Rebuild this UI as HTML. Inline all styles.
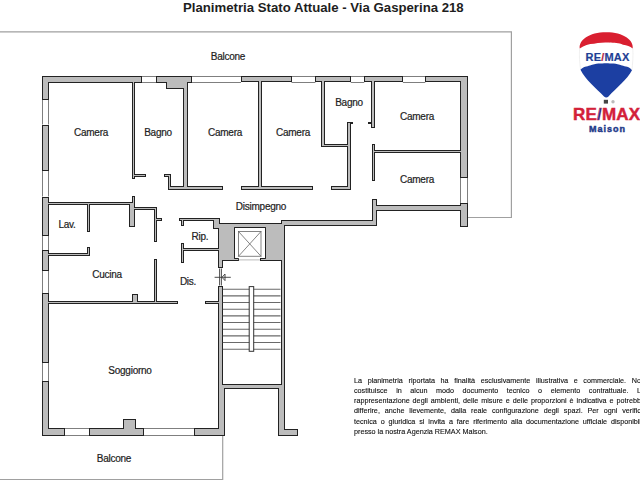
<!DOCTYPE html>
<html><head><meta charset="utf-8"><style>
html,body{margin:0;padding:0;background:#fff;}
body{width:640px;height:480px;overflow:hidden;position:relative;font-family:"Liberation Sans",sans-serif;}
svg{position:absolute;left:0;top:0;}
.title{position:absolute;left:183px;top:-0.5px;font-weight:bold;font-size:13.2px;color:#1e1e1e;white-space:nowrap;}
.disc{position:absolute;left:354px;top:375.6px;width:323.3px;font-size:8px;line-height:10.25px;color:#111;-webkit-text-stroke:0.12px #111;white-space:nowrap;transform:scaleX(0.9);transform-origin:0 0;}
.lg1{position:absolute;left:585.5px;top:51px;font-weight:bold;font-size:11px;line-height:12px;color:#1f3f95;letter-spacing:0.2px;-webkit-text-stroke:0.2px #1f3f95;white-space:nowrap;}
.lg2{position:absolute;left:573px;top:105.5px;font-weight:bold;font-size:17px;line-height:18px;color:#d3213a;letter-spacing:0.2px;-webkit-text-stroke:0.45px #d3213a;white-space:nowrap;}
.lg3{position:absolute;left:589px;top:123.5px;font-weight:bold;font-size:9px;line-height:10px;color:#1f3a8a;letter-spacing:1.0px;-webkit-text-stroke:0.45px #1f3a8a;white-space:nowrap;}
.j{text-align:justify;text-align-last:justify;}
</style></head><body>
<div class="title">Planimetria Stato Attuale - Via Gasperina 218</div>
<svg width="640" height="480" viewBox="0 0 640 480">
<g fill="none" stroke="#a0a0a0" stroke-width="1.2">
<polyline points="0,31.8 511.4,31.8 511.4,217.5 467.7,217.5"/>
<polyline points="0,479.5 222.7,479.5 222.7,435.6"/>
</g>
<g stroke="#7f7f7f" stroke-width="1"><line x1="141.5" y1="76.5" x2="156" y2="76.5"/><line x1="141.5" y1="82.5" x2="156" y2="82.5"/><line x1="191.5" y1="76.5" x2="241" y2="76.5"/><line x1="191.5" y1="82.5" x2="241" y2="82.5"/><line x1="291.5" y1="76.5" x2="315.4" y2="76.5"/><line x1="291.5" y1="82.5" x2="315.4" y2="82.5"/><line x1="350.75" y1="76.5" x2="364.25" y2="76.5"/><line x1="350.75" y1="82.5" x2="364.25" y2="82.5"/><line x1="402.9" y1="76.5" x2="425.3" y2="76.5"/><line x1="402.9" y1="82.5" x2="425.3" y2="82.5"/><line x1="64.6" y1="428.5" x2="89.4" y2="428.5"/><line x1="64.6" y1="435.5" x2="89.4" y2="435.5"/><line x1="143.75" y1="428.5" x2="194.4" y2="428.5"/><line x1="143.75" y1="435.5" x2="194.4" y2="435.5"/><line x1="42.5" y1="99.5" x2="42.5" y2="124.5"/><line x1="48.5" y1="99.5" x2="48.5" y2="124.5"/><line x1="42.5" y1="170.6" x2="42.5" y2="196.5"/><line x1="48.5" y1="170.6" x2="48.5" y2="196.5"/><line x1="42.5" y1="235.5" x2="42.5" y2="250"/><line x1="48.5" y1="235.5" x2="48.5" y2="250"/><line x1="42.5" y1="270.6" x2="42.5" y2="293"/><line x1="48.5" y1="270.6" x2="48.5" y2="293"/><line x1="42.5" y1="363" x2="42.5" y2="381.3"/><line x1="48.5" y1="363" x2="48.5" y2="381.3"/><line x1="460.5" y1="177.5" x2="460.5" y2="203"/><line x1="467.5" y1="177.5" x2="467.5" y2="203"/></g>
<defs><filter id="er" x="0" y="0" width="640" height="480" filterUnits="userSpaceOnUse"><feMorphology operator="erode" radius="1"/></filter></defs>
<path fill="#222" d="M42 76H142V83H42ZM156 76H192V83H156ZM166 83H188V89H166ZM241 76H292V82H241ZM315 76H351V82H315ZM364 76H403V82H364ZM425 76H468V82H425ZM42 76H49V100H42ZM42 125H49V171H42ZM42 197H49V236H42ZM42 250H49V271H42ZM42 293H49V363H42ZM42 381H49V436H42ZM42 428H65V436H42ZM89 428H144V436H89ZM123 419H136V428H123ZM194 428H225V436H194ZM218 389H225V436H218ZM278 429H298V436H278ZM278 389H285V436H278ZM460 76H468V178H460ZM460 203H468V227H460ZM132 82H135V179H132ZM135 174H146V177H135ZM168 174H171V189H168ZM164 174H171V177H164ZM168 186H223V190H168ZM183 82H188V189H183ZM258 82H262V189H258ZM241 186H313V190H241ZM321 82H325V147H321ZM321 144H351V147H321ZM347 122H351V189H347ZM351 122H353V124H351ZM331 186H351V190H331ZM371 82H375V128H371ZM368 122H371V124H368ZM372 144H375V181H372ZM375 150H460V153H375ZM372 199H377V226H372ZM377 205H460V211H377ZM281 220H377V226H281ZM49 202H129V205H49ZM87 204H90V232H87ZM129 202H135V227H129ZM132 196H135V203H132ZM135 207H157V210H135ZM154 207H157V242H154ZM157 218H162V221H157ZM49 253H90V256H49ZM87 247H90V256H87ZM154 259H157V303H154ZM49 301H178V304H49ZM132 294H138V301H132ZM205 301H218V304H205ZM179 218H220V221H179ZM181 220H184V226H181ZM213 218H220V229H213ZM183 248H219V251H183ZM181 243H184V263H181ZM218 223H235V261H218ZM265 223H285V261H265ZM234 258H239V261H234ZM260 258H266V261H260ZM218 223H285V228H218ZM218 223H223V268H218ZM218 286H223V389H218ZM281 222H285V436H281ZM222 384H281V389H222Z"/>
<path fill="#bcbcbc" filter="url(#er)" d="M42 76H142V83H42ZM156 76H192V83H156ZM166 83H188V89H166ZM241 76H292V82H241ZM315 76H351V82H315ZM364 76H403V82H364ZM425 76H468V82H425ZM42 76H49V100H42ZM42 125H49V171H42ZM42 197H49V236H42ZM42 250H49V271H42ZM42 293H49V363H42ZM42 381H49V436H42ZM42 428H65V436H42ZM89 428H144V436H89ZM123 419H136V428H123ZM194 428H225V436H194ZM218 389H225V436H218ZM278 429H298V436H278ZM278 389H285V436H278ZM460 76H468V178H460ZM460 203H468V227H460ZM132 82H135V179H132ZM135 174H146V177H135ZM168 174H171V189H168ZM164 174H171V177H164ZM168 186H223V190H168ZM183 82H188V189H183ZM258 82H262V189H258ZM241 186H313V190H241ZM321 82H325V147H321ZM321 144H351V147H321ZM347 122H351V189H347ZM351 122H353V124H351ZM331 186H351V190H331ZM371 82H375V128H371ZM368 122H371V124H368ZM372 144H375V181H372ZM375 150H460V153H375ZM372 199H377V226H372ZM377 205H460V211H377ZM281 220H377V226H281ZM49 202H129V205H49ZM87 204H90V232H87ZM129 202H135V227H129ZM132 196H135V203H132ZM135 207H157V210H135ZM154 207H157V242H154ZM157 218H162V221H157ZM49 253H90V256H49ZM87 247H90V256H87ZM154 259H157V303H154ZM49 301H178V304H49ZM132 294H138V301H132ZM205 301H218V304H205ZM179 218H220V221H179ZM181 220H184V226H181ZM213 218H220V229H213ZM183 248H219V251H183ZM181 243H184V263H181ZM218 223H235V261H218ZM265 223H285V261H265ZM234 258H239V261H234ZM260 258H266V261H260ZM218 223H285V228H218ZM218 223H223V268H218ZM218 286H223V389H218ZM281 222H285V436H281ZM222 384H281V389H222Z"/>
<path d="M238.6 258.5H234.5V227.5H265.5V258.5H260" fill="#fff" stroke="#222" stroke-width="1"/><line x1="238.6" y1="259.9" x2="260" y2="259.9" stroke="#aaa" stroke-width="0.8"/>
<g fill="none" stroke="#666" stroke-width="0.8">
<rect x="238.5" y="231.5" width="22.5" height="24.75"/>
<line x1="238.5" y1="231.5" x2="261" y2="256.25"/><line x1="261" y1="231.5" x2="238.5" y2="256.25"/>
</g>
<g stroke="#6a6a6a" stroke-width="1.1"><line x1="222.8" y1="289.20" x2="280.5" y2="289.20"/><line x1="222.8" y1="295.87" x2="280.5" y2="295.87"/><line x1="222.8" y1="302.53" x2="280.5" y2="302.53"/><line x1="222.8" y1="309.20" x2="280.5" y2="309.20"/><line x1="222.8" y1="315.87" x2="280.5" y2="315.87"/><line x1="222.8" y1="322.53" x2="280.5" y2="322.53"/><line x1="222.8" y1="329.20" x2="280.5" y2="329.20"/><line x1="222.8" y1="335.87" x2="280.5" y2="335.87"/><line x1="222.8" y1="342.54" x2="280.5" y2="342.54"/><line x1="222.8" y1="349.20" x2="280.5" y2="349.20"/></g>
<rect x="249.2" y="286.6" width="4.5" height="64.7" fill="#fff" stroke="#333" stroke-width="1"/>
<g stroke="#3a3a3a" stroke-width="0.9" fill="none">
<line x1="214.6" y1="277.3" x2="230.8" y2="277.3"/>
<line x1="219.6" y1="268.5" x2="219.6" y2="285.5"/><line x1="221.4" y1="268.5" x2="221.4" y2="285.5"/>
<polygon points="222,277.3 225,274 225,280.6"/>
</g>
<g font-family="Liberation Sans" font-size="10" fill="#222" stroke="#222" stroke-width="0.2" letter-spacing="-0.25" text-anchor="middle"><text x="228" y="60">Balcone</text><text x="91" y="136">Camera</text><text x="158" y="136">Bagno</text><text x="225" y="136">Camera</text><text x="293" y="136">Camera</text><text x="349" y="106">Bagno</text><text x="417" y="120">Camera</text><text x="417" y="183">Camera</text><text x="261" y="210">Disimpegno</text><text x="67" y="228">Lav.</text><text x="200" y="240">Rip.</text><text x="107" y="278">Cucina</text><text x="188" y="285">Dis.</text><text x="130" y="374">Soggiorno</text><text x="114" y="462">Balcone</text></g>
</svg>
<div class="disc"><div class="j">La planimetria riportata ha finalità esclusivamente illustrativa e commerciale. Non</div><div class="j">costituisce in alcun modo documento tecnico o elemento contrattuale. La</div><div class="j">rappresentazione degli ambienti, delle misure e delle proporzioni è indicativa e potrebbe</div><div class="j">differire, anche lievemente, dalla reale configurazione degli spazi. Per ogni verifica</div><div class="j">tecnica o giuridica si invita a fare riferimento alla documentazione ufficiale disponibile</div><div>presso la nostra Agenzia REMAX Maison.</div></div>

<svg width="640" height="480" viewBox="0 0 640 480" style="position:absolute;left:0;top:0">
<path fill="none" stroke="#ececec" stroke-width="0.8" d="M579.6,48.5 C579,56 579.8,64 580.6,69.8 M632.8,48.5 C633.4,56 632.6,64 631.9,70.3"/>
<path fill="#d91f30" d="M579.75,48.5 C578.5,40 589,32.2 606.2,32.2 C623.5,32.2 634,40 632.7,48.5 C630,46 627,45.5 623,44.8 C619,42.5 614,43.2 609,42.5 C604,42.8 599,42.3 594,43.8 C589,43.8 584,45.5 579.75,48.5 Z"/>
<path fill="#1c3fa2" d="M580.5,69.8 C583,66.5 587,66.5 590,65.5 C596,63 601,63.5 606.2,63.2 C611,63.5 616,63 622,65.5 C625,66.5 629.5,66.5 632,70.3 C627,80 616,88 608.5,96.5 C607,97.8 605.5,97.8 604,96.5 C596,88 585.5,80 580.5,69.8 Z"/>
<rect x="603.8" y="99.8" width="4.2" height="3.8" fill="#444"/>
<circle cx="613" cy="101.7" r="1.7" fill="#bbb"/>
</svg>
<div class="lg1">RE<span style="color:#d6202f">/</span>MAX</div>
<div class="lg2">RE<span style="color:#1c3fa2">/</span>MAX</div>
<div class="lg3">Maison</div>
</body></html>
